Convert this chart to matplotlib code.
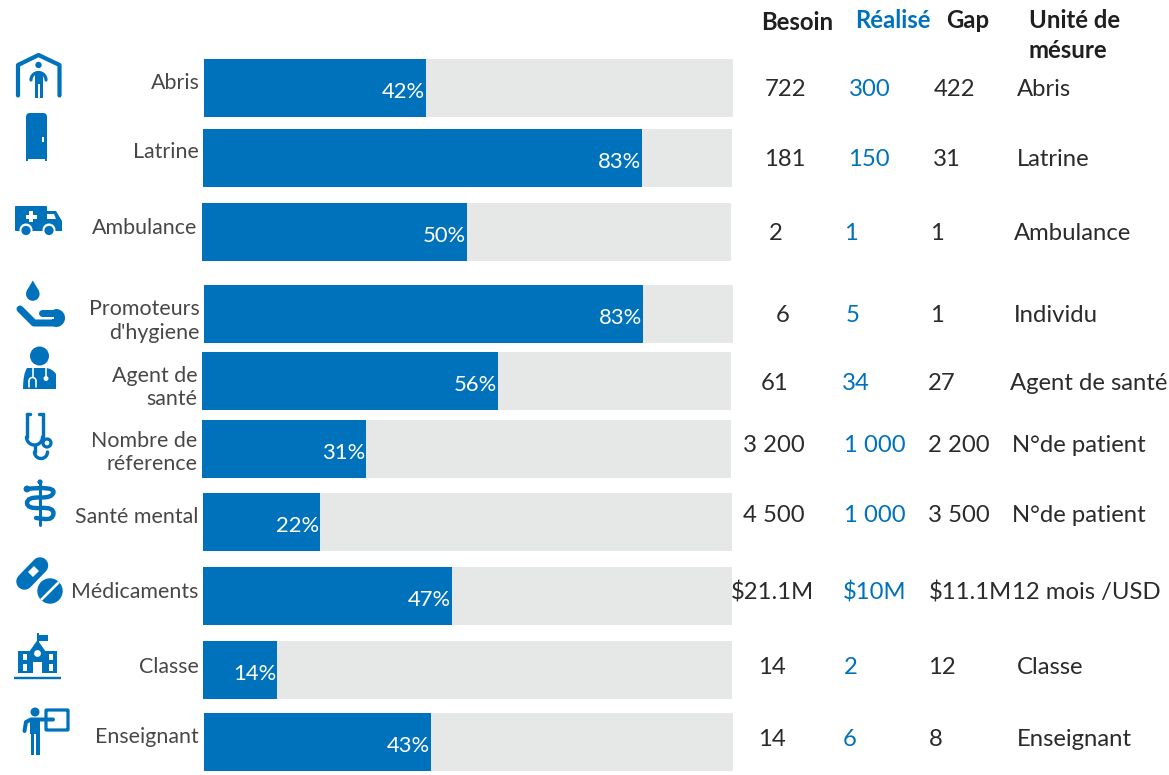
import numpy as np
import matplotlib
matplotlib.use("Agg")
import matplotlib.pyplot as plt
from matplotlib.patches import Circle, Rectangle, Polygon, FancyBboxPatch, PathPatch
from matplotlib.path import Path

plt.rcParams['font.family'] = ['Lato', 'DejaVu Sans']

# ---------- data ----------
categories = [["Abris"], ["Latrine"], ["Ambulance"], ["Promoteurs", "d'hygiene"], ["Agent de", "santé"],
              ["Nombre de", "réference"], ["Santé mental"], ["Médicaments"], ["Classe"], ["Enseignant"]]
percent = [42, 83, 50, 83, 56, 31, 22.2, 47, 14, 43]
besoin = ["722", "181", "2", "6", "61", "3 200", "4 500", "$21.1M", "14", "14"]
realise = ["300", "150", "1", "5", "34", "1 000", "1 000", "$10M", "2", "6"]
gap = ["422", "31", "1", "1", "27", "2 200", "3 500", "$11.1M", "12", "8"]
unite = ["Abris", "Latrine", "Ambulance", "Individu", "Agent de santé", "N°de patient",
         "N°de patient", "12 mois /USD", "Classe", "Enseignant"]

# ---------- layout (pixels) ----------
W, H = 1169, 775
BLUE, GREY, TXT, DARK = "#0072BC", "#E6E7E7", "#474747", "#2B2B2B"
bar_left = [204, 203, 202, 204, 202, 202, 203, 203, 203, 203.5]
bar_top = [59, 129, 203, 285, 352, 420, 493, 567, 641, 713]
bar_h = 58
track = 529
value_base = [96.5, 165.5, 240.5, 321.5, 389.5, 451.5, 521.5, 599.5, 674.5, 745.5]
besoin_x = [764.5, 764.5, 768.5, 775.5, 760.5, 743, 743, 730.5, 758.5, 758.5]
realise_x = [848.5, 848, 844.5, 845.5, 842, 843.5, 843.5, 842.5, 843.5, 842.5]
gap_x = [933.5, 932.5, 930.5, 930.5, 927.5, 928.5, 928.5, 928.5, 928.5, 928.5]
unite_x = [1016.5, 1016.5, 1013.5, 1013.5, 1010.5, 1011.5, 1011.5, 1011.5, 1016.5, 1016.5]
label_right = [199.5, 198.5, 197.5, 199.5, 197.5, 197.5, 198.5, 198.5, 198.5, 198.5]
label_base = [[89], [158], [234], [315, 339], [382, 405], [447, 470.5], [523], [598], [673], [743]]

fig = plt.figure(figsize=(W / 100, H / 100), dpi=100, facecolor="white")
ax = fig.add_axes([0, 0, 1, 1])
ax.set_xlim(0, W)
ax.set_ylim(H, 0)
ax.axis("off")

centers = [t + bar_h / 2 for t in bar_top]
fills = [p / 100 * track for p in percent]
ax.barh(centers, [track] * len(percent), left=bar_left, height=bar_h, color=GREY, lw=0)
ax.barh(centers, fills, left=bar_left, height=bar_h, color=BLUE, lw=0)

VAL, LAB, PCT = 17.2, 15.4, 15.8
for i, p in enumerate(percent):
    ax.text(bar_left[i] + fills[i] - 1, bar_top[i] + 39, f"{p:.0f}%", color="white", fontsize=PCT, ha="right", va="baseline")
    for line_txt, b in zip(categories[i], label_base[i]):
        ax.text(label_right[i], b, line_txt, color=TXT, fontsize=LAB, ha="right", va="baseline")
    ax.text(besoin_x[i], value_base[i], besoin[i], color=DARK, fontsize=VAL, va="baseline")
    ax.text(realise_x[i], value_base[i], realise[i], color=BLUE, fontsize=VAL, va="baseline")
    ax.text(gap_x[i], value_base[i], gap[i], color=DARK, fontsize=VAL, va="baseline")
    ax.text(unite_x[i], value_base[i], unite[i], color=DARK, fontsize=VAL, va="baseline")

HEAD = 17.2
ax.text(761, 29.5, "Besoin", color="#1F1F1F", fontsize=HEAD, fontweight="bold", va="baseline")
ax.text(855, 28.5, "Réalisé", color=BLUE, fontsize=HEAD, fontweight="bold", va="baseline")
ax.text(946, 28.5, "Gap", color="#1F1F1F", fontsize=HEAD, fontweight="bold", va="baseline")
ax.text(1029, 28.5, "Unité de", color="#1F1F1F", fontsize=HEAD, fontweight="bold", va="baseline")
ax.text(1029, 58.5, "mésure", color="#1F1F1F", fontsize=HEAD, fontweight="bold", va="baseline")


# ---------- icons ----------
def line(xs, ys, w, c=BLUE, cap="round"):
    ax.plot(xs, ys, color=c, lw=w * 0.72, solid_capstyle=cap, solid_joinstyle="round", zorder=3)

def rect(x0, y0, x1, y1, c=BLUE):
    ax.add_patch(Rectangle((x0, y0), x1 - x0, y1 - y0, fc=c, lw=0, zorder=3))

def circ(x, y, r, c=BLUE, z=3):
    ax.add_patch(Circle((x, y), r, fc=c, lw=0, zorder=z))

def ring(x, y, r, w):
    ax.add_patch(Circle((x, y), r, fc="white", ec=BLUE, lw=w * 0.72, zorder=4))

def arc(cx, cy, r, a0, a1, w, c=BLUE):
    t = np.radians(np.linspace(a0, a1, 40))
    line(cx + r * np.cos(t), cy + r * np.sin(t), w, c)

def smooth(pts, w, c=BLUE):
    pts = np.array(pts, float)
    verts, codes = [pts[0]], [Path.MOVETO]
    for k in range(1, len(pts) - 1):
        verts += [pts[k], (pts[k] + pts[k + 1]) / 2]
        codes += [Path.CURVE3, Path.CURVE3]
    verts.append(pts[-1])
    codes.append(Path.LINETO)
    ax.add_patch(PathPatch(Path(verts, codes), fc="none", ec=c, lw=w * 0.72, capstyle="round", zorder=3))

# shelter
line([18, 18, 38.5, 59.5, 59.5], [95.5, 65, 55, 65, 95.5], 4.2)
circ(38.5, 65, 3.2)
arc(38.5, 80, 7.5, 180, 360, 3.2)
rect(34.5, 72.5, 43, 84)
rect(34.5, 84, 38, 97.5)
rect(39.5, 84, 43, 97.5)

# latrine
ax.add_patch(FancyBboxPatch((30, 117), 13, 10, boxstyle="round,pad=4", fc=BLUE, lw=0, zorder=3))
rect(26, 122, 47, 159)
rect(26, 121.6, 47, 122.4, "white")
rect(26, 158, 28, 161)
rect(45, 158, 47, 161)
rect(42, 137, 44, 142, "white")

# ambulance
ax.add_patch(FancyBboxPatch((16, 207), 30, 23, boxstyle="round,pad=1", fc=BLUE, lw=0, zorder=3))
ax.add_patch(Polygon([[46, 211], [56, 211], [62, 221], [62, 231], [46, 231]], fc=BLUE, lw=0, zorder=3))
ax.add_patch(Polygon([[47, 214], [54, 214], [56, 219], [47, 219]], fc="white", lw=0, zorder=4))
rect(29, 211, 33, 222, "white")
rect(25.5, 214.5, 36.5, 218.5, "white")
for wx in (26, 49):
    circ(wx, 230, 6.5, "white", 4)
    circ(wx, 230.5, 4.6, BLUE, 5)

# water drop and hand
circ(32.8, 294, 6.8)
ax.add_patch(Polygon([[26.6, 291], [32.8, 280.5], [39, 291]], fc=BLUE, lw=0, zorder=3))
line([20, 34, 56], [309, 323, 323], 7)
line([42, 56], [313, 313], 7)
arc(56, 318, 5, -90, 90, 8)
rect(52, 311, 60, 325)
rect(38, 317, 54, 319, "white")

# health worker
circ(39.5, 356, 9.5)
ax.add_patch(PathPatch(Path([(23, 389), (23, 374), (27, 368), (34, 368), (45, 368), (52, 368), (56, 374), (56, 389), (23, 389)],
                            [Path.MOVETO, Path.CURVE3, Path.CURVE3, Path.LINETO, Path.LINETO, Path.CURVE3, Path.CURVE3, Path.LINETO, Path.LINETO]),
                       fc=BLUE, lw=0, zorder=3))
line([29, 29], [387, 381], 1.6, "white")
arc(32.5, 381, 3.5, 180, 360, 1.6, "white")
line([36, 36], [387, 381], 1.6, "white")
line([32.5, 32.5], [368, 377], 1.6, "white")
line([46, 46], [368, 376], 1.6, "white")
circ(46, 378.5, 2.5, "white", 4)
for a in ax.lines[-6:]:
    a.set_zorder(4)

# stethoscope
line([26.5, 26.5], [414, 437], 3.4)
line([42.5, 42.5], [414, 437], 3.4)
arc(34.5, 437, 8, 180, 0, 3.4)
line([26.5, 30], [414, 414], 3.4)
line([39, 42.5], [414, 414], 3.4)
line([34.5, 34.5], [445, 452], 3.4)
arc(41, 452, 6.5, 180, 0, 3.4)
ring(47, 443, 4, 3.2)

# rod of asclepius
line([40, 40], [481, 525], 3)
circ(40, 482, 2.6)
smooth([(26, 489), (54, 486), (53, 498), (27, 497), (27, 509), (54, 507), (53, 520), (36, 518)], 4.4)
circ(27, 489, 3.4)

# pills
line([24.5, 40], [581.5, 565.5], 16.5)
ax.add_patch(Polygon([[28, 572], [34, 566], [39, 571], [33, 577]], fc="white", lw=0, zorder=4))
circ(50, 591, 12.7)
line([41, 59], [600, 582], 2.6, "white", "butt")
for a in ax.lines[-1:]:
    a.set_zorder(4)

# school
line([14, 61], [678, 678], 2.4, cap="butt")
rect(37, 633, 38.6, 646)
rect(38, 635, 48, 641)
ax.add_patch(Polygon([[29, 652], [37.5, 640], [46, 652], [46, 673], [29, 673]], fc=BLUE, lw=0, zorder=3))
rect(18, 651, 57, 673)
circ(37.5, 653.5, 3.4, "white", 4)
rect(33, 662, 42, 673, "white")
for wx in (23, 49):
    rect(wx, 654, wx + 4, 660, "white")
    rect(wx, 664, wx + 4, 671, "white")

# teacher
circ(35, 712, 4.5)
line([24.5, 26, 31, 53], [731, 722, 719.5, 719.5], 4)
rect(30, 719, 40, 734)
rect(30.5, 734, 34.3, 755)
rect(35.7, 734, 39.5, 755)
ax.add_patch(FancyBboxPatch((46.5, 710.5), 21, 19, boxstyle="round,pad=0.5", fc="none", ec=BLUE, lw=3.2 * 0.72, zorder=3))

fig.savefig("out.png", dpi=100, facecolor="white")
